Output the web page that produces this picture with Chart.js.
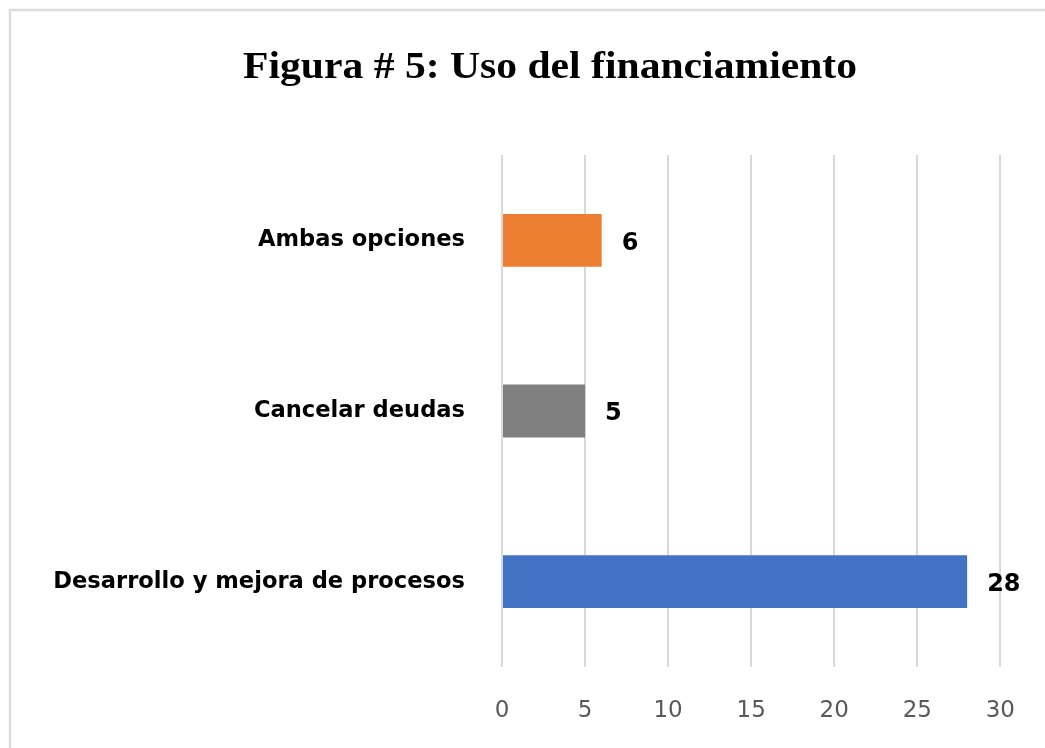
<!DOCTYPE html>
<html>
<head>
<meta charset="utf-8">
<script src="https://cdn.jsdelivr.net/npm/chart.js@4"></script>
<style>
  html, body { margin: 0; padding: 0; background: #fff; overflow: hidden; }
  #wrap { width: 1045px; height: 748px; position: relative; }
</style>
</head>
<body>
<div id="wrap"><canvas id="usoChart" width="1045" height="748"></canvas></div>
<script>
const titulo = 'Figura # 5: Uso del financiamiento';
const categorias = ['Ambas opciones', 'Cancelar deudas', 'Desarrollo y mejora de procesos'];
const valores = [6, 5, 28];
const colores = ['#ED7D31', '#808080', '#4472C4'];
const ticksX = [0, 5, 10, 15, 20, 25, 30];

// marco gris y título (el título va un poco a la derecha del centro)
const marco = {
  id: 'marco',
  beforeDraw(chart) {
    const ctx = chart.ctx;
    ctx.save();
    ctx.fillStyle = '#fff';
    ctx.fillRect(0, 0, chart.width, chart.height);
    ctx.strokeStyle = '#dcdcdc';
    ctx.lineWidth = 2.5;
    ctx.beginPath();
    ctx.moveTo(10, chart.height);
    ctx.lineTo(10, 10);
    ctx.lineTo(chart.width, 10);
    ctx.stroke();

    ctx.font = 'bold 37px "Liberation Serif"';
    ctx.fillStyle = '#000';
    ctx.textAlign = 'center';
    ctx.textBaseline = 'alphabetic';
    const w = ctx.measureText(titulo).width;
    const sx = 614 / w;
    ctx.translate(550, 78);
    ctx.scale(sx, 1);
    ctx.fillText(titulo, 0, 0);
    ctx.restore();
  }
};

// etiquetas de valor al final de cada barra
const etiquetas = {
  id: 'etiquetas',
  afterDatasetsDraw(chart) {
    const ctx = chart.ctx;
    const meta = chart.getDatasetMeta(0);
    ctx.save();
    ctx.font = 'bold 24px "DejaVu Sans"';
    ctx.fillStyle = '#000';
    ctx.textAlign = 'left';
    ctx.textBaseline = 'middle';
    meta.data.forEach((bar, i) => {
      ctx.fillText(valores[i], bar.x + 20, bar.y + 3);
    });
    ctx.restore();
  }
};

const usoChart = new Chart(document.getElementById('usoChart'), {
  type: 'bar',
  data: {
    labels: categorias,
    datasets: [{
      data: valores,
      backgroundColor: colores,
      barPercentage: 0.31,
      categoryPercentage: 1
    }]
  },
  options: {
    indexAxis: 'y',
    responsive: false,
    animation: false,
    layout: { padding: { left: 0, right: 42, top: 155, bottom: 0 } },
    plugins: {
      legend: { display: false },
      tooltip: { enabled: false },
      title: { display: false }
    },
    scales: {
      x: {
        min: 0,
        max: 30,
        afterBuildTicks(scale) {
          scale.ticks = ticksX.map(v => ({ value: v }));
        },
        afterFit(scale) { scale.height = 81; },
        grid: { color: '#d9d9d9', lineWidth: 2, drawTicks: false },
        border: { display: false },
        ticks: {
          color: '#595959',
          padding: 30,
          font: { family: '"DejaVu Sans"', size: 23 }
        }
      },
      y: {
        grid: { display: false, drawTicks: false },
        border: { display: false },
        afterFit(scale) { scale.width = 502; },
        ticks: {
          color: '#000',
          padding: 37,
          font: { family: '"DejaVu Sans"', size: 22.6, weight: 'bold' }
        }
      }
    }
  },
  plugins: [marco, etiquetas]
});
</script>
</body>
</html>
